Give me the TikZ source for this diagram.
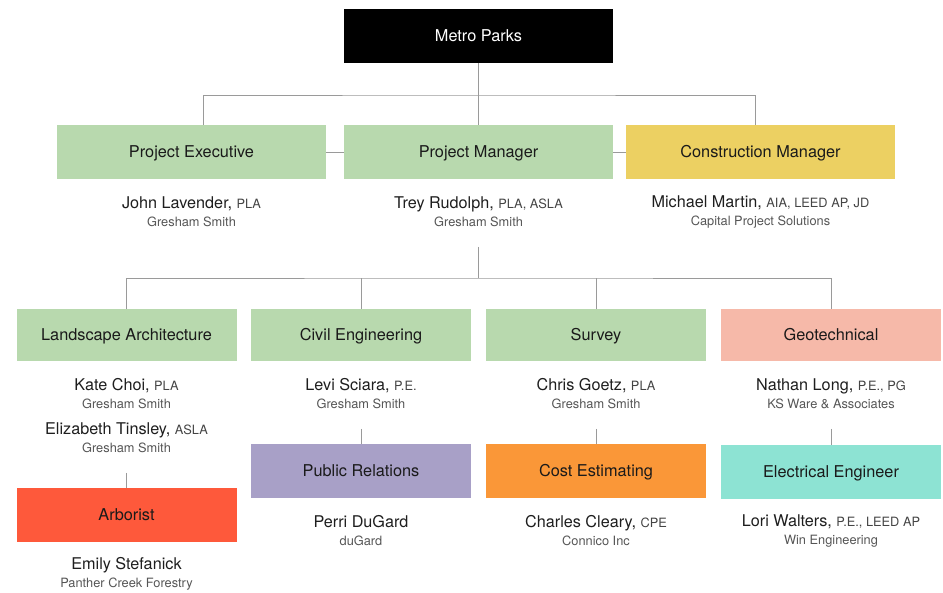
\documentclass[tikz,border=0pt]{standalone}
\usepackage{fontspec}
\setmainfont{TeX Gyre Heros}
\definecolor{green1}{HTML}{B8D9AE}
\definecolor{yellow1}{HTML}{ECD062}
\definecolor{salmon1}{HTML}{F6B9A9}
\definecolor{purple1}{HTML}{A8A0C7}
\definecolor{orange1}{HTML}{FA9738}
\definecolor{teal1}{HTML}{8DE3D3}
\definecolor{red1}{HTML}{FE593B}
\definecolor{linec}{HTML}{9A9A9A}
\definecolor{labelc}{HTML}{1A1A1A}
\definecolor{namec}{HTML}{1E1E1E}
\definecolor{compc}{HTML}{555555}
\definecolor{credc}{HTML}{444444}
\newcommand{\cred}[1]{{\fontsize{12.8}{15}\selectfont\color{credc}#1}}
\newcommand{\comp}[1]{{\fontsize{12.8}{15}\selectfont\color{compc}#1}}
\begin{document}
\begin{tikzpicture}[x=1pt,y=-1pt,
  box/.style={rectangle, inner sep=0pt, minimum width=269pt, minimum height=54pt,
    text height=11.7pt, text depth=0pt,
    font=\fontsize{16.3}{18}\selectfont, text=labelc},
  sbox/.style={box, minimum width=220pt},
  person/.style={align=center, inner sep=0pt, font=\fontsize{16.2}{18}\selectfont, text=namec},
  conn/.style={draw=linec, line width=0.9pt}]
\useasboundingbox (0,0) rectangle (943,593);
% top level
\node[box, fill=black, text=white] (metro) at (478.5,36) {Metro Parks};
\node[box, fill=green1] (pe) at (191.5,152) {Project Executive};
\node[box, fill=green1] (pm) at (478.5,152) {Project Manager};
\node[box, fill=yellow1] (cm) at (760.5,152) {Construction Manager};
\node[person] (ppe) at (191.5,212) {John Lavender, \cred{PLA}\\\comp{Gresham Smith}};
\node[person] (ppm) at (478.5,212) {Trey Rudolph, \cred{PLA, ASLA}\\\comp{Gresham Smith}};
\node[person] (pcm) at (760.5,212) {Michael Martin, \cred{AIA, LEED AP, JD}\\\comp{Capital Project Solutions}};
% second level
\node[sbox, minimum height=52pt, fill=green1] (la) at (126.5,335) {Landscape Architecture};
\node[sbox, minimum height=52pt, fill=green1] (ce) at (361,335) {Civil Engineering};
\node[sbox, minimum height=52pt, fill=green1] (sv) at (596,335) {Survey};
\node[sbox, minimum height=52pt, fill=salmon1] (geo) at (831,335) {Geotechnical};
\node[person] (pla1) at (126.5,394) {Kate Choi, \cred{PLA}\\\comp{Gresham Smith}};
\node[person] (pla2) at (126.5,438) {Elizabeth Tinsley, \cred{ASLA}\\\comp{Gresham Smith}};
\node[person] (pce) at (361,394) {Levi Sciara, \cred{P.E.}\\\comp{Gresham Smith}};
\node[person] (psv) at (596,394) {Chris Goetz, \cred{PLA}\\\comp{Gresham Smith}};
\node[person] (pgeo) at (831,394) {Nathan Long, \cred{P.E., PG}\\\comp{KS Ware \& Associates}};
% third level
\node[sbox, fill=red1] (arb) at (126.5,515) {Arborist};
\node[sbox, fill=purple1] (pr) at (361,471) {Public Relations};
\node[sbox, fill=orange1] (cost) at (596,471) {Cost Estimating};
\node[sbox, fill=teal1] (ee) at (831,472) {Electrical Engineer};
\node[person] (parb) at (126.5,574) {Emily Stefanick\\\comp{Panther Creek Forestry}};
\node[person] (ppr) at (361,531) {Perri DuGard\\\comp{duGard}};
\node[person] (pcost) at (596,531) {Charles Cleary, \cred{CPE}\\\comp{Connico Inc}};
\node[person] (pee) at (831,531) {Lori Walters, \cred{P.E., LEED AP}\\\comp{Win Engineering}};
% junction coordinates
\coordinate (bus1) at (478.5,95);
\coordinate (pmstub) at (478.5,247);
\coordinate (bus2) at (478.5,278);
\coordinate (lastub) at (126.5,473);
\coordinate (cestub) at (361,429);
\coordinate (svstub) at (596,429);
\coordinate (geostub) at (831,429);
% connectors
\draw[conn] (metro.south) -- (pm.north);
\draw[conn] ([xshift=11.5pt]pe.north) |- (bus1) -| ([xshift=-5.5pt]cm.north);
\draw[conn] (pe.east) -- (pm.west);
\draw[conn] (pm.east) -- (cm.west);
\draw[conn] (pmstub) -- (bus2);
\draw[conn] (la.north) |- (bus2) -| (geo.north);
\draw[conn] (ce.north) -- (ce.north |- bus2);
\draw[conn] (sv.north) -- (sv.north |- bus2);
\draw[conn] (lastub) -- (arb.north);
\draw[conn] (cestub) -- (pr.north);
\draw[conn] (svstub) -- (cost.north);
\draw[conn] (geostub) -- (ee.north);
\end{tikzpicture}
\end{document}
